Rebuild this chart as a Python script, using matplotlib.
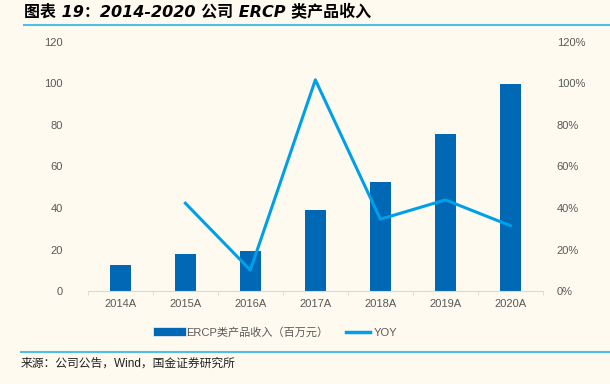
import matplotlib.pyplot as plt
from matplotlib.lines import Line2D
import numpy as np

plt.rcParams['font.family'] = ['Liberation Sans', 'Noto Sans CJK SC', 'DejaVu Sans']

years = ['2014A', '2015A', '2016A', '2017A', '2018A', '2019A', '2020A']
revenue = [12.5, 17.7, 19.4, 39.0, 52.7, 75.7, 99.8]
yoy_years = ['2015A', '2016A', '2017A', '2018A', '2019A', '2020A']
yoy = [42.3, 10.1, 101.7, 34.6, 43.9, 31.5]

BG = '#FEFAF0'
BAR = '#0068B5'
LINE = '#00A0E9'
GRAY = '#595959'

fig = plt.figure(figsize=(6.1, 3.84), dpi=100, facecolor=BG)
ax = fig.add_axes([0.144, 0.242, 0.746, 0.649])
ax.set_facecolor(BG)

x = np.arange(len(years))
ax.bar(x, revenue, width=0.33, color=BAR, zorder=2)
ax.set_xlim(-0.5, len(years) - 0.5)
ax.set_ylim(0, 120)
ax.set_yticks(range(0, 121, 20))
ax.set_xticks(x)
ax.set_xticklabels(years)
ax.set_xticks(np.arange(-0.5, len(years), 1), minor=True)
ax.tick_params(axis='x', which='major', length=0, pad=6, labelsize=8, labelcolor=GRAY)
ax.tick_params(axis='x', which='minor', length=3, color='#D9D9D9', direction='out')
ax.tick_params(axis='y', length=0, pad=18, labelsize=8, labelcolor=GRAY)
for s in ['top', 'right', 'left']:
    ax.spines[s].set_visible(False)
ax.spines['bottom'].set_color('#D9D9D9')

ax2 = ax.twinx()
xi = [years.index(y) for y in yoy_years]
ax2.plot(xi, yoy, color=LINE, lw=2.2, zorder=3)
ax2.set_ylim(0, 120)
ax2.set_yticks(range(0, 121, 20))
ax2.set_yticklabels([f'{v}%' for v in range(0, 121, 20)])
ax2.tick_params(axis='y', length=0, pad=10, labelsize=8, labelcolor=GRAY)
for s in ['top', 'right', 'left', 'bottom']:
    ax2.spines[s].set_visible(False)

handles = [Line2D([0], [0], color=BAR, lw=6), Line2D([0], [0], color=LINE, lw=2.5)]
fig.legend(handles, ['ERCP类产品收入（百万元）', 'YOY'], loc='center',
           bbox_to_anchor=(0.455, 0.135), ncol=2, frameon=False, fontsize=8,
           labelcolor=GRAY, handlelength=2.2, handletextpad=0.3, columnspacing=1.6)

fig.text(0.04, 0.968, '图表 19：2014-2020 公司 ERCP 类产品收入', fontsize=11.5,
         fontweight='bold', style='italic', va='center',
         family=['DejaVu Sans', 'Noto Sans CJK SC'])
fig.add_artist(Line2D([0.04, 1.0], [0.935, 0.935], color='#4FBFE8', lw=1.5))
fig.add_artist(Line2D([0.034, 1.0], [0.083, 0.083], color='#4FBFE8', lw=1.5))
fig.text(0.034, 0.052, '来源：公司公告，Wind，国金证券研究所', fontsize=8.5, va='center',
         color='#222222')

fig.savefig('out.png', dpi=100, facecolor=BG)
